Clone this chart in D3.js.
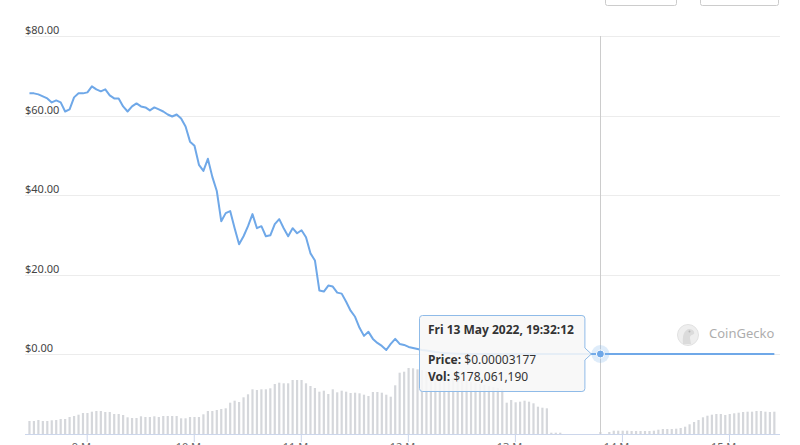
<!DOCTYPE html>
<html lang="en">
<head>
<meta charset="UTF-8">
<title>LUNA price</title>
<script src="https://cdn.jsdelivr.net/npm/d3@7"></script>
<style>
    body { margin: 0; background: #ffffff; }
    svg { display: block; font-family: "Noto Sans", "Open Sans", sans-serif; }
</style>
</head>
<body>
<div id="container"></div>
<script>
    // hourly samples, first one at 8 May 2022 11:10 UTC
    const startTime = Date.UTC(2022, 4, 8, 11, 10);

    // price in USD (null = no sample)
    const prices = [
        65.57, 65.57, 65.32, 64.81, 64.30, 63.29, 63.80, 63.29, 61.01, 61.52,
        64.56, 65.57, 65.57, 65.82, 67.34, 66.58, 66.08, 66.58, 65.06, 64.30,
        64.30, 62.28, 61.01, 62.28, 63.04, 62.28, 62.03, 61.27, 62.03, 61.52,
        61.01, 60.25, 59.75, 60.25, 59.24, 57.22, 53.42, 52.41, 47.59, 46.08,
        49.11, 44.56, 41.01, 33.42, 35.44, 35.95, 31.65, 27.59, 29.62, 32.15,
        35.19, 31.65, 32.15, 29.62, 29.87, 32.66, 33.92, 31.65, 29.62, 31.65,
        30.38, 31.14, 29.37, 25.32, 23.54, 15.95, 15.70, 17.22, 16.96, 15.44,
        15.19, 13.16, 10.89, 9.37, 6.58, 4.56, 5.57, 3.80, 2.78, 2.03,
        1.01, 2.53, 3.80, 2.53, 2.28, 1.77, 1.52, 1.27, 1.01, 0.89,
        0.7, 0.5, 0.35, 0.25, 0.18, 0.12, 0.08, 0.05, 0.03, 0.02,
        0.012, 0.008, 0.005, 0.004, 0.003, 0.002, 0.0015, 0.001, 0.0008, 0.0006,
        0.0005, 0.0004, 0.0003, 0.00025, 0.0002, 0.00015, 0.0001, 0.00008, 0.00006, 0.00005,
        null, null, null, null, null, null, null, null, 0.00003177, null,
        0.00004, 0.00005, 0.00006, 0.00008, 0.0001, 0.00012, 0.00014, 0.00015, 0.00016, 0.00018,
        0.0002, 0.00019, 0.00018, 0.0002, 0.00021, 0.00022, 0.0002, 0.00019, 0.0002, 0.00021,
        0.00022, 0.00023, 0.00022, 0.00021, 0.0002, 0.0002, 0.00019, 0.0002, 0.00021, 0.00022,
        0.00021, 0.0002, 0.00021, 0.00022, 0.00021, 0.0002, 0.00021, 0.00022
    ];

    // 24h volume, USD millions
    const volumes = [
        1157, 1157, 1246, 1157, 1157, 1219, 1246, 1335, 1335, 1513,
        1602, 1718, 1869, 1869, 1985, 2047, 2047, 1958, 1958, 1780,
        1780, 1691, 1486, 1424, 1424, 1575, 1513, 1513, 1575, 1513,
        1602, 1602, 1602, 1602, 1397, 1397, 1513, 1513, 1513, 1753,
        2047, 2047, 2136, 2225, 2287, 2786, 2964, 2848, 3266, 3533,
        3978, 3916, 3978, 3978, 4067, 4450, 4566, 4512, 4512, 4806,
        4806, 4806, 4512, 4272, 4094, 3765, 3854, 3560, 3978, 3711,
        3854, 3765, 3649, 3676, 3622, 3498, 3382, 3738, 3738, 3676,
        3498, 3320, 4334, 5456, 5545, 5874, 5847, 5758, 5696, 5607,
        5518, 5340, 5251, 5162, 5073, 4984, 4895, 4806, 4717, 4628,
        4539, 4450, 4361, 4272, 4183, 4094, 4005, 2786, 3026, 2821,
        2875, 2964, 2875, 2732, 2430, 2341, 2287, 116, 116, 116,
        null, null, null, null, null, null, null, null, 178, null,
        178, 294, 294, 294, 294, 267, 267, 267, 267, 267,
        294, 383, 445, 445, 445, 472, 534, 650, 863, 1068,
        1246, 1486, 1629, 1718, 1780, 1780, 1691, 1780, 1842, 1896,
        1958, 1985, 1985, 2047, 2047, 1985, 1958, 1985
    ];

    const priceTicks = [0, 20, 40, 60, 80];
    const dayTicks = [9, 10, 11, 12, 13, 14, 15];
    const dayLabels = ["9 May", "10 May", "11 May", "12 May", "13 May", "14 May", "15 May"];

    const hoverIndex = 128;
    const hoverTitle = "Fri 13 May 2022, 19:32:12";
    const hoverPrice = "$0.00003177";
    const hoverVol = "$178,061,190";

    const data = prices.map((p, i) => ({
        date: new Date(startTime + i * 3600e3),
        price: p,
        vol: volumes[i]
    }));

    const W = 800, H = 445;
    const left = 25, right = 780;

    let svg = d3.select("#container")
        .append("svg")
        .attr("width", W)
        .attr("height", H)
        .style("background-color", "#ffffff");

    let x = d3.scaleUtc()
        .domain([new Date(Date.UTC(2022, 4, 9)), new Date(Date.UTC(2022, 4, 15))])
        .range([86.7, 729]);
    let y = d3.scaleLinear().domain([0, 80]).range([354, 36]);
    let yVol = d3.scaleLinear().domain([0, 8900]).range([434, 334]);

    // range buttons peeking in at the top
    svg.append("rect").attr("x", 605.5).attr("y", -20.5).attr("width", 71).attr("height", 26)
        .attr("rx", 2).attr("fill", "#fff").attr("stroke", "#cccccc");
    svg.append("rect").attr("x", 700.5).attr("y", -20.5).attr("width", 78).attr("height", 26)
        .attr("rx", 2).attr("fill", "#fff").attr("stroke", "#cccccc");

    // grid + y labels
    let grid = svg.append("g");
    grid.selectAll("line")
        .data(priceTicks)
        .join("line")
        .attr("x1", left).attr("x2", right)
        .attr("y1", d => Math.round(y(d)) + 0.5)
        .attr("y2", d => Math.round(y(d)) + 0.5)
        .attr("stroke", "#ececec");
    grid.selectAll("text")
        .data(priceTicks)
        .join("text")
        .attr("x", left)
        .attr("y", d => y(d) - 2)
        .attr("font-size", "11px")
        .attr("fill", "#444")
        .text(d => "$" + d.toFixed(2));

    // volume bars
    svg.append("g")
        .selectAll("rect")
        .data(data.filter(d => d.vol != null))
        .join("rect")
        .attr("x", d => x(d.date) - 1.1)
        .attr("width", 2.2)
        .attr("y", d => yVol(d.vol))
        .attr("height", d => 434 - yVol(d.vol))
        .attr("fill", "#d5d7db");

    // x axis (labels run off the bottom edge, as in the source)
    let xAxis = svg.append("g")
        .attr("transform", "translate(0,434)")
        .call(d3.axisBottom(x)
            .tickValues(dayTicks.map(d => new Date(Date.UTC(2022, 4, d))))
            .tickFormat((d, i) => dayLabels[i])
            .tickSize(8)
            .tickPadding(1)
            .tickSizeOuter(0));
    xAxis.select(".domain").attr("d", `M${left},0.5H${right}`).attr("stroke", "#ccd6eb");
    xAxis.selectAll(".tick line").attr("stroke", "#ccd6eb");
    xAxis.selectAll(".tick text")
        .attr("fill", "#666")
        .attr("font-size", "11px")
        .attr("font-family", "Noto Sans, sans-serif");

    // crosshair
    const hp = data[hoverIndex];
    const mx = x(hp.date), my = y(hp.price);
    svg.append("line")
        .attr("x1", Math.round(mx) + 0.5).attr("x2", Math.round(mx) + 0.5)
        .attr("y1", 36).attr("y2", 434)
        .attr("stroke", "#cccccc");

    // price line
    let line = d3.line()
        .x(d => x(d.date))
        .y(d => y(d.price));
    svg.append("path")
        .datum(data.filter(d => d.price != null))
        .attr("d", line)
        .attr("fill", "none")
        .attr("stroke", "#6fa8e8")
        .attr("stroke-width", 2)
        .attr("stroke-linejoin", "round");

    // watermark
    let wm = svg.append("g").attr("opacity", 0.6);
    wm.append("circle").attr("cx", 688).attr("cy", 335).attr("r", 10.5)
        .attr("fill", "#e4e4e4").attr("stroke", "#cfcfcf");
    wm.append("path")
        .attr("d", "M683,344 C682,336 684,330 689,329 C693,329 695,332 694,334 C692,335 690,335 690,338 L691,344 Z")
        .attr("fill", "#c4c4c4");
    wm.append("circle").attr("cx", 689.5).attr("cy", 331.5).attr("r", 1).attr("fill", "#888");
    wm.append("text").attr("x", 709).attr("y", 338)
        .attr("font-size", "13px").attr("fill", "#777")
        .text("CoinGecko");

    // marker
    svg.append("circle").attr("cx", mx).attr("cy", my).attr("r", 9)
        .attr("fill", "rgba(124,181,236,0.25)");
    svg.append("circle").attr("cx", mx).attr("cy", my).attr("r", 4)
        .attr("fill", "#6fa8e8").attr("stroke", "#fff").attr("stroke-width", 1);

    // tooltip
    const tx = mx - 9, bx0 = 419.5, bx1 = mx - 15.5, by0 = 315.5, by1 = 391.5, r = 3;
    let tip = svg.append("g");
    tip.append("path")
        .attr("d", `M${bx0 + r},${by0} H${bx1 - r} Q${bx1},${by0} ${bx1},${by0 + r}
            V${my - 6} L${tx},${my} L${bx1},${my + 6}
            V${by1 - r} Q${bx1},${by1} ${bx1 - r},${by1}
            H${bx0 + r} Q${bx0},${by1} ${bx0},${by1 - r}
            V${by0 + r} Q${bx0},${by0} ${bx0 + r},${by0} Z`)
        .attr("fill", "rgba(247,247,247,0.88)")
        .attr("stroke", "#8fbbe8")
        .attr("stroke-width", 1);
    tip.append("text").attr("x", 428).attr("y", 333.5)
        .attr("font-size", "12px").attr("font-weight", "bold").attr("fill", "#333")
        .text(hoverTitle);
    let t1 = tip.append("text").attr("x", 428).attr("y", 364)
        .attr("font-size", "12px").attr("fill", "#333");
    t1.append("tspan").attr("font-weight", "bold").text("Price: ");
    t1.append("tspan").text(hoverPrice);
    let t2 = tip.append("text").attr("x", 428).attr("y", 380.5)
        .attr("font-size", "12px").attr("fill", "#333");
    t2.append("tspan").attr("font-weight", "bold").text("Vol: ");
    t2.append("tspan").text(hoverVol);
</script>
</body>
</html>
